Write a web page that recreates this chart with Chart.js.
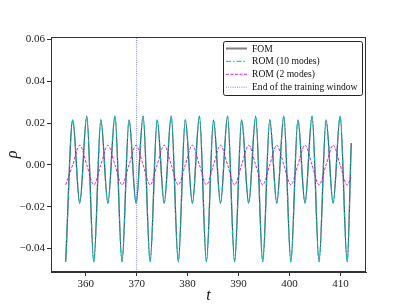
<!DOCTYPE html>
<html>
<head>
<meta charset="utf-8">
<script src="https://cdn.jsdelivr.net/npm/chart.js@4.4.0/dist/chart.umd.min.js"></script>
<style>
html,body{margin:0;padding:0;background:#fff;}
#myChart{display:block;}
</style>
</head>
<body>
<canvas id="myChart" width="407" height="306"></canvas>
<script>
// turning points (troughs / peaks)
const tPts = [356.08, 357.46, 358.84, 360.22, 361.60, 362.98, 364.36, 365.75,
  367.13, 368.51, 369.89, 371.27, 372.65, 374.03, 375.41, 376.79,
  378.17, 379.55, 380.94, 382.32, 383.70, 385.08, 386.46, 387.84,
  389.22, 390.60, 391.98, 393.36, 394.74, 396.12, 397.50, 398.88,
  400.26, 401.64, 403.03, 404.41, 405.79, 407.17, 408.55, 409.93,
  411.31, 412.10]
const fom = [-0.0464, 0.0215, -0.0184, 0.0233, -0.0464, 0.0215, -0.0184, 0.0233,
  -0.0464, 0.0215, -0.0184, 0.0233, -0.0464, 0.0215, -0.0184, 0.0233,
  -0.0464, 0.0215, -0.0184, 0.0233, -0.0464, 0.0215, -0.0184, 0.0233,
  -0.0464, 0.0215, -0.0184, 0.0233, -0.0464, 0.0215, -0.0184, 0.0233,
  -0.0464, 0.0215, -0.0184, 0.0233, -0.0464, 0.0215, -0.0184, 0.0233,
  -0.0464, 0.0104]
const rom10 = [-0.0463, 0.0215, -0.0183, 0.0233, -0.0463, 0.0215, -0.0183, 0.0233,
  -0.0463, 0.0215, -0.0183, 0.0233, -0.0463, 0.0215, -0.0183, 0.0233,
  -0.0463, 0.0215, -0.0183, 0.0233, -0.0463, 0.0215, -0.0183, 0.0233,
  -0.0463, 0.0215, -0.0183, 0.0233, -0.0463, 0.0215, -0.0183, 0.0233,
  -0.0463, 0.0215, -0.0183, 0.0233, -0.0463, 0.0215, -0.0183, 0.0233,
  -0.0463, 0.0104]
const rom2 = [-0.0096, 0.0000, 0.0094, 0.0000, -0.0096, 0.0000, 0.0094, 0.0000,
  -0.0096, 0.0000, 0.0094, 0.0000, -0.0096, 0.0000, 0.0094, 0.0000,
  -0.0096, 0.0000, 0.0094, 0.0000, -0.0096, 0.0000, 0.0094, 0.0000,
  -0.0096, 0.0000, 0.0094, 0.0000, -0.0096, 0.0000, 0.0094, 0.0000,
  -0.0096, 0.0000, 0.0094, 0.0000, -0.0096, 0.0000, 0.0094, 0.0000,
  -0.0096, -0.0060]
// end of the training window
const tWindow = [370, 370]
const yWindow = [-0.0513, 0.0612]

const xTicks = [360, 370, 380, 390, 400, 410]
const yTicks = [-0.04, -0.02, 0.00, 0.02, 0.04, 0.06]
const seriesLabels = ['FOM', 'ROM (10 modes)', 'ROM (2 modes)', 'End of the training window']

const toXY = (xs, ys) => xs.map((x, i) => ({x: x, y: ys[i]}))
const serif = 'Liberation Serif, DejaVu Serif, serif'

// box round the axes + legend inside the plot (upper right)
const frameAndLegend = {
  id: 'frameAndLegend',
  afterDraw(chart) {
    const ctx = chart.ctx
    const a = chart.chartArea
    ctx.save()
    ctx.strokeStyle = '#333'
    ctx.lineWidth = 1
    ctx.strokeRect(a.left + 0.5, a.top + 0.5, a.right - a.left - 1, a.bottom - a.top - 1)

    const w = 139, h = 54
    const x0 = a.right - 4 - w, y0 = a.top + 4
    ctx.beginPath()
    ctx.roundRect(x0 + 0.5, y0 + 0.5, w, h, 2)
    ctx.fillStyle = 'rgba(255,255,255,0.9)'
    ctx.fill()
    ctx.strokeStyle = '#222'
    ctx.stroke()

    ctx.font = '9.6px ' + serif
    ctx.textBaseline = 'middle'
    chart.data.datasets.forEach((ds, i) => {
      const y = y0 + 7.5 + i * 12.9
      ctx.beginPath()
      ctx.setLineDash(ds.borderDash || [])
      ctx.strokeStyle = ds.legendColor || ds.borderColor
      ctx.lineWidth = ds.legendWidth || ds.borderWidth
      ctx.moveTo(x0 + 3, y)
      ctx.lineTo(x0 + 24, y)
      ctx.stroke()
      ctx.setLineDash([])
      ctx.fillStyle = '#111'
      ctx.fillText(ds.label, x0 + 29, y + 0.5)
    })
    ctx.restore()
  }
}

const data = {
  datasets: [
    {
      label: seriesLabels[0],
      data: toXY(tPts, fom),
      borderColor: 'rgba(0,0,0,0.7)',
      borderWidth: 1.3,
      legendColor: 'rgba(0,0,0,0.5)',
      legendWidth: 2,
      order: 3
    },
    {
      label: seriesLabels[1],
      data: toXY(tPts, rom10),
      borderColor: 'rgba(0,195,195,0.85)',
      borderWidth: 1.2,
      borderDash: [5, 2, 1.5, 2],
      order: 2
    },
    {
      label: seriesLabels[2],
      data: toXY(tPts, rom2),
      borderColor: 'rgba(210,0,210,0.85)',
      borderWidth: 1,
      borderDash: [3, 1.5],
      order: 1
    },
    {
      label: seriesLabels[3],
      data: toXY(tWindow, yWindow),
      borderColor: 'rgba(70,70,255,0.7)',
      borderWidth: 1,
      borderDash: [1, 1.2],
      cubicInterpolationMode: 'default',
      order: 0
    }
  ]
}

const config = {
  type: 'line',
  data: data,
  plugins: [frameAndLegend],
  options: {
    responsive: false,
    animation: false,
    events: [],
    layout: {padding: {left: 0, right: 41, top: 37, bottom: 0}},
    elements: {
      point: {radius: 0},
      line: {cubicInterpolationMode: 'monotone', fill: false}
    },
    plugins: {
      legend: {display: false},
      tooltip: {enabled: false}
    },
    scales: {
      x: {
        type: 'linear',
        min: 353.2,
        max: 415.0,
        afterBuildTicks: (axis) => { axis.ticks = xTicks.map(v => ({value: v})) },
        afterFit: (axis) => { axis.height = 34 },
        grid: {display: true, drawOnChartArea: false, drawTicks: true, tickLength: 4, color: '#333'},
        border: {display: true, color: '#333'},
        ticks: {
          color: '#222',
          padding: 2,
          maxRotation: 0,
          font: {family: serif, size: 11},
          callback: (v) => String(v)
        },
        title: {
          display: true,
          text: 't',
          color: '#111',
          padding: {top: 0, bottom: 1},
          font: {family: serif, size: 16, style: 'italic'}
        }
      },
      y: {
        type: 'linear',
        min: -0.0513,
        max: 0.0612,
        afterBuildTicks: (axis) => { axis.ticks = yTicks.map(v => ({value: v})) },
        afterFit: (axis) => { axis.width = 51 },
        grid: {display: true, drawOnChartArea: false, drawTicks: true, tickLength: 4, color: '#333'},
        border: {display: true, color: '#333'},
        ticks: {
          color: '#222',
          padding: 2,
          font: {family: serif, size: 11},
          callback: (v) => (v < 0 ? '\u2212' : '') + Math.abs(v).toFixed(2)
        },
        title: {
          display: true,
          text: '\u03c1',
          color: '#111',
          padding: {top: 3, bottom: 0},
          font: {family: serif, size: 16, style: 'italic'}
        }
      }
    }
  }
}

var myLineChart = new Chart('myChart', config)
</script>
</body>
</html>
